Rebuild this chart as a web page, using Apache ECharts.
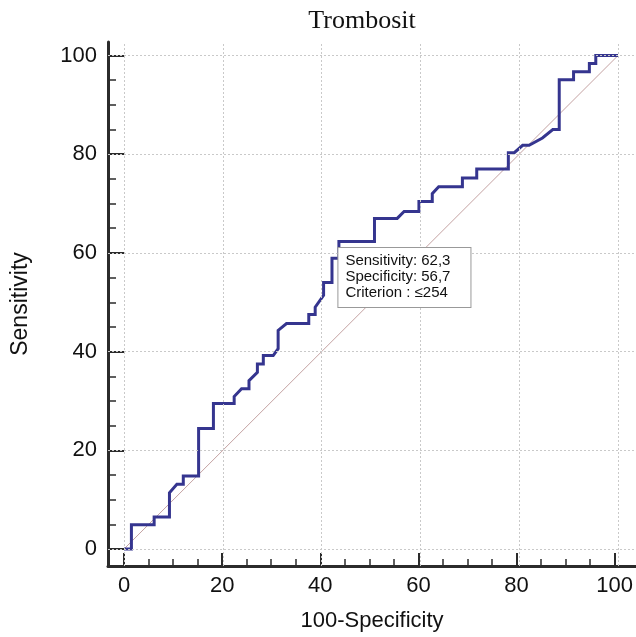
<!DOCTYPE html>
<html><head><meta charset="utf-8">
<script src="https://cdn.jsdelivr.net/npm/echarts@6/dist/echarts.min.js"></script>
<style>html,body{margin:0;padding:0;background:#fff}#c{width:636px;height:637px}</style>
</head><body><div id="c"></div>
<script>
// 100-Specificity (x) and Sensitivity (y) of the ROC curve
const fpr = [0, 1.5, 1.5, 6.1, 6.1, 9.2, 9.2, 10.7, 12.0, 12.0, 15.1, 15.1, 18.1, 18.1, 22.3, 22.3, 23.8, 25.3, 25.3, 27.0, 27.0, 28.2, 28.2, 30.2, 31.2, 31.2, 32.9, 37.4, 37.4, 38.7, 38.7, 40.4, 40.4, 42.1, 42.1, 43.5, 43.5, 50.7, 50.7, 55.3, 56.7, 59.7, 59.7, 62.4, 62.4, 63.7, 68.5, 68.5, 71.4, 71.4, 77.8, 77.8, 79.0, 80.7, 82.0, 84.7, 86.8, 88.1, 88.1, 91.0, 91.0, 94.2, 94.2, 95.5, 95.5, 100];
const tpr = [0, 0, 4.9, 4.9, 6.5, 6.5, 11.4, 13.1, 13.1, 14.8, 14.8, 24.4, 24.4, 29.5, 29.5, 30.9, 32.5, 32.5, 34.1, 35.8, 37.5, 37.5, 39.2, 39.2, 40.6, 44.3, 45.7, 45.7, 47.5, 47.5, 49.0, 51.4, 54.0, 54.0, 58.9, 58.9, 62.3, 62.3, 67.0, 67.0, 68.4, 68.4, 70.4, 70.4, 72.0, 73.4, 73.4, 75.2, 75.2, 77.0, 77.0, 80.3, 80.3, 81.8, 81.8, 83.3, 85.0, 85.0, 95.1, 95.1, 96.7, 96.7, 98.4, 98.4, 100, 100];
const diagX = [0, 100];
const diagY = [0, 100];
const tickValues = [0, 20, 40, 60, 80, 100];
const cutX = [43.5];
const cutY = [62.3];
const cutText = ['Sensitivity: 62,3', 'Specificity: 56,7', 'Criterion : \u2264254'];

const chart = echarts.init(document.getElementById('c'), null, {renderer: 'canvas'});
const curve = fpr.map((x, i) => [x, tpr[i]]);
const diag = diagX.map((x, i) => [x, diagY[i]]);
const grey = '#c9c9c9';
const axisCol = '#2b2b2b';
const sans = 'Liberation Sans';

const option = {
  animation: false,
  backgroundColor: '#fff',
  graphic: [{
    type: 'text', x: 362, y: 21, silent: true,
    style: {text: 'Trombosit', font: '26px "Liberation Serif"', fill: '#111', textAlign: 'center', textVerticalAlign: 'middle'}
  }],
  grid: [
    {left: 108, right: 0, top: 42, bottom: 71},
    {left: 124, right: 18, top: 55.5, bottom: 88}
  ],
  xAxis: [
    {gridIndex: 0, type: 'value', min: -3.24, max: 103.64,
     axisLine: {show: true, onZero: false, lineStyle: {color: axisCol, width: 3}},
     axisTick: {show: false}, axisLabel: {show: false}, splitLine: {show: false},
     name: '100-Specificity', nameLocation: 'middle', nameGap: 44,
     nameTextStyle: {fontFamily: sans, fontSize: 22, color: '#111'}},
    {gridIndex: 1, type: 'value', min: 0, max: 100, interval: 20, offset: 17,
     axisLine: {show: false, onZero: false},
     axisTick: {show: true, inside: true, length: 13, lineStyle: {color: axisCol, width: 2}},
     minorTick: {show: true, splitNumber: 4, length: 7, lineStyle: {color: axisCol, width: 1.5}},
     axisLabel: {fontFamily: sans, fontSize: 22, color: '#111', margin: 9},
     splitLine: {show: false}}
  ],
  yAxis: [
    {gridIndex: 0, type: 'value', min: -3.44, max: 102.74,
     axisLine: {show: true, onZero: false, lineStyle: {color: axisCol, width: 3}},
     axisTick: {show: false}, axisLabel: {show: false}, splitLine: {show: false},
     name: 'Sensitivity', nameLocation: 'middle', nameGap: 76,
     nameTextStyle: {fontFamily: sans, fontSize: 23, color: '#111'}},
    {gridIndex: 1, type: 'value', min: 0, max: 100, interval: 20, offset: 16,
     axisLine: {show: false, onZero: false},
     axisTick: {show: true, inside: true, length: 16, lineStyle: {color: axisCol, width: 2}},
     minorTick: {show: true, splitNumber: 4, length: 8, lineStyle: {color: axisCol, width: 1.5}},
     axisLabel: {fontFamily: sans, fontSize: 22, color: '#111', margin: 11},
     splitLine: {show: false}}
  ],
  series: [
    {type: 'line', xAxisIndex: 0, yAxisIndex: 0, data: diag, symbol: 'none', silent: true, z: 2,
     lineStyle: {color: '#c4a2a2', width: 1},
     markLine: {
       silent: true, symbol: ['none', 'none'], label: {show: false},
       lineStyle: {color: grey, type: [2, 2], width: 1},
       data: tickValues.map(v => ({xAxis: v})).concat(tickValues.map(v => ({yAxis: v})))
     }},
    {type: 'line', xAxisIndex: 0, yAxisIndex: 0, data: curve, symbol: 'none', z: 3,
     lineStyle: {color: '#35358f', width: 3, join: 'miter'},
     markPoint: {
       symbol: 'rect', symbolSize: 1, itemStyle: {color: 'rgba(0,0,0,0)'},
       data: [{coord: [cutX[0], cutY[0]]}],
       label: {
         show: true, formatter: cutText.join('\n'), position: [0, 7], align: 'left', verticalAlign: 'top',
         fontFamily: sans, fontSize: 15, lineHeight: 16, color: '#111',
         backgroundColor: '#fff', borderColor: '#999', borderWidth: 1, padding: [5, 20, 6, 7]
       }
     }}
  ]
};
chart.setOption(option);
</script>
</body></html>
